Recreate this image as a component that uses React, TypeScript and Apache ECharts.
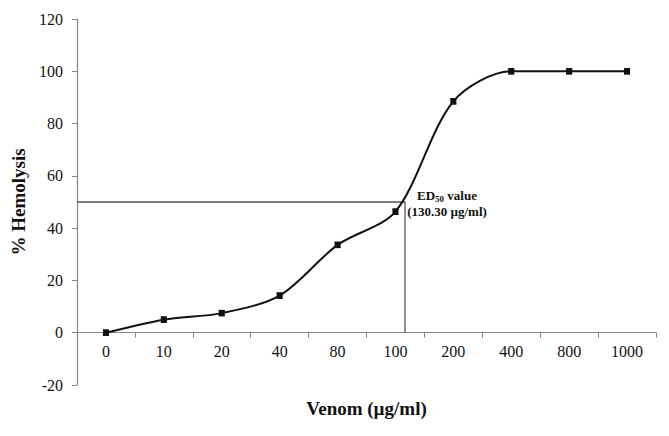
import React, { useEffect, useRef } from "react";
import * as echarts from "echarts";

const categories = ["0", "10", "20", "40", "80", "100", "200", "400", "800", "1000"];
const hemolysis = [0, 5, 7.5, 14.2, 33.6, 46.3, 88.5, 100, 100, 100];
const errors = [1, 1, 1, 1, 1, 1, 1, 1, 1, 1];
const yTicks = { min: -20, max: 120, interval: 20 };
// ED50 guide: position on a value axis spanning the category bands (0..10)
const ed50X = 5.665;
const ed50Y = 50;

const FONT = "'Liberation Serif', 'Times New Roman', serif";

const W = 669;
const H = 436;
const GRID = { left: 77, right: 13, top: 19, bottom: 51 };

export default function App() {
  const ref = useRef<HTMLDivElement>(null);
  useEffect(() => {
    if (!ref.current) return;
    const chart = echarts.init(ref.current, undefined, { renderer: "svg" });
    const gridH = H - GRID.top - GRID.bottom;
    // lift the category axis so it sits at y = 0 (labels follow it)
    const xOffset = -gridH * (0 - yTicks.min) / (yTicks.max - yTicks.min);
    chart.setOption({
      animation: false,
      backgroundColor: "#fff",
      grid: { ...GRID, containLabel: false, outerBoundsMode: "none" },
      xAxis: [
        {
          type: "category",
          data: categories,
          boundaryGap: true,
          position: "bottom",
          offset: xOffset,
          axisLine: { onZero: false, lineStyle: { color: "#888", width: 1.2 } },
          axisTick: { show: true, interval: 0, length: 5, lineStyle: { color: "#888" } },
          axisLabel: { interval: 0, color: "#111", fontFamily: FONT, fontSize: 16, margin: 11 },
          name: "Venom (µg/ml)",
          nameLocation: "middle",
          nameGap: 66,
          nameTextStyle: { color: "#111", fontFamily: FONT, fontSize: 19, fontWeight: "bold" },
        },
        { type: "value", min: 0, max: 10, show: false },
      ],
      yAxis: {
        type: "value",
        min: yTicks.min,
        max: yTicks.max,
        interval: yTicks.interval,
        axisLine: { show: true, onZero: false, lineStyle: { color: "#888", width: 1.2 } },
        axisTick: { show: true, length: 5, lineStyle: { color: "#888" } },
        splitLine: { show: false },
        axisLabel: { color: "#111", fontFamily: FONT, fontSize: 16, margin: 14 },
        name: "% Hemolysis",
        nameLocation: "middle",
        nameGap: 47,
        nameTextStyle: { color: "#111", fontFamily: FONT, fontSize: 19, fontWeight: "bold" },
      },
      series: [
        {
          type: "line",
          xAxisIndex: 1,
          data: [
            [0, ed50Y],
            {
              value: [ed50X, ed50Y],
              label: {
                show: true,
                position: "right",
                distance: 0,
                align: "center",
                formatter: "{b|ED}{s|50}{b| value}\n{b|(130.30 µg/ml)}",
                rich: {
                  b: { fontFamily: FONT, fontWeight: "bold", fontSize: 13, color: "#111", lineHeight: 16 },
                  s: { fontFamily: FONT, fontWeight: "bold", fontSize: 9, color: "#111", lineHeight: 16, padding: [7, 0, 0, 0] },
                },
                offset: [42, 1],
              },
            },
            [ed50X, 0],
          ],
          symbol: "circle",
          symbolSize: 0,
          showSymbol: true,
          itemStyle: { color: "#555" },
          lineStyle: { color: "#555", width: 1.3 },
          z: 1,
          silent: true,
        },
        {
          type: "line",
          data: hemolysis,
          smooth: 0.3,
          symbol: "rect",
          symbolSize: 6,
          itemStyle: { color: "#111" },
          lineStyle: { color: "#111", width: 2 },
          z: 3,
        },
        {
          type: "custom",
          data: hemolysis.map((v, i) => [i, v - errors[i], v + errors[i]]),
          renderItem: (params: any, api: any) => {
            const lo = api.coord([api.value(0), api.value(1)]);
            const hi = api.coord([api.value(0), api.value(2)]);
            const w = 3;
            const style = { stroke: "#111", lineWidth: 1.3 };
            return {
              type: "group",
              children: [
                { type: "line", shape: { x1: lo[0], y1: lo[1], x2: hi[0], y2: hi[1] }, style },
                { type: "line", shape: { x1: lo[0] - w, y1: lo[1], x2: lo[0] + w, y2: lo[1] }, style },
                { type: "line", shape: { x1: hi[0] - w, y1: hi[1], x2: hi[0] + w, y2: hi[1] }, style },
              ],
            };
          },
          z: 4,
        },
      ],
    });
    return () => chart.dispose();
  }, []);
  return <div ref={ref} style={{ width: W, height: H, position: "absolute", left: 0, top: 0 }} />;
}
